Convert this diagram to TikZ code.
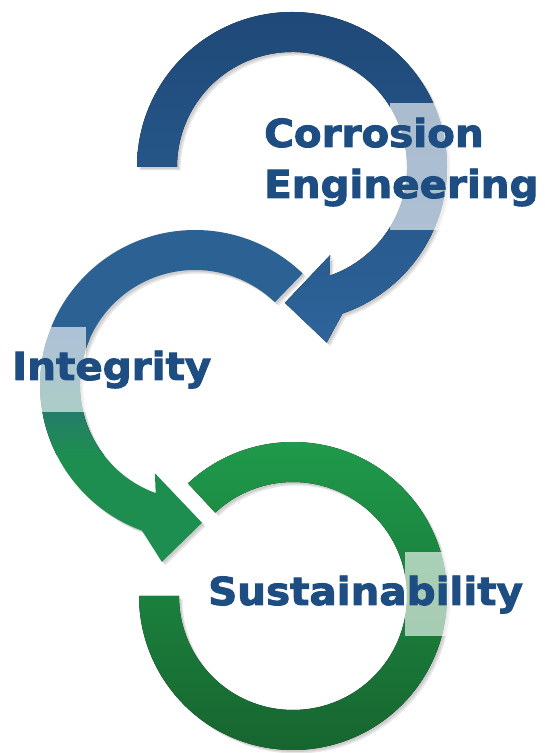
\documentclass[tikz,border=0pt]{standalone}
\usepackage{fontspec}
\newfontfamily\lblfont{DejaVu Sans}[FakeStretch=1.05, FakeBold=2.5]
\definecolor{topA}{HTML}{1E4877}
\definecolor{topB}{HTML}{2E659B}
\definecolor{midblue}{HTML}{2C6194}
\definecolor{midgreen}{HTML}{1E8E50}
\definecolor{botA}{HTML}{1F9A4B}
\definecolor{botB}{HTML}{17652F}
\definecolor{txtblue}{HTML}{1E4D82}
\newcommand{\ringTop}{(180:155) arc[start angle=180,end angle=-71,radius=155] -- (-78.8:179) -- (-93:136) -- (-66.6:96) -- (-71:115) arc[start angle=-71,end angle=180,radius=115] -- cycle}
\newcommand{\ringMid}{(46:155) arc[start angle=46,end angle=250,radius=155] -- (259.4:180) -- (272.9:138) -- (245.6:97) -- (250:115) arc[start angle=250,end angle=46,radius=115] -- cycle}
\newcommand{\ringBot}{(133:154) arc[start angle=133,end angle=-180,radius=154] -- (-180:114) arc[start angle=-180,end angle=133,radius=114] -- cycle}
\tikzset{
  lbl/.style={anchor=base west, inner sep=0pt, font=\lblfont\bfseries\fontsize{38.5}{42}\selectfont, text=txtblue},
  ringshade/.style={fill=black, opacity=0.10},
  glare/.style={fill=white, opacity=0.62}
}
\begin{document}
\begin{tikzpicture}[x=1pt,y=1pt]
\useasboundingbox (0,0) rectangle (544,753);
% shadows of the rings
\foreach \d in {2,3.5} {
  \begin{scope}[shift={(292+\d,586-\d)}] \fill[ringshade] \ringTop; \end{scope}
  \begin{scope}[shift={(195+\d,368-\d)}] \fill[ringshade] \ringMid; \end{scope}
  \begin{scope}[shift={(293+\d,157-\d)}] \fill[ringshade] \ringBot; \end{scope}
}
% top ring
\begin{scope}[shift={(292,586)}]
  \clip \ringTop;
  \fill[top color=topA, bottom color=topB] (-200,-185) rectangle (200,160);
\end{scope}
% middle ring
\begin{scope}[shift={(195,368)}]
  \clip \ringMid;
  \fill[midblue] (-200,45) rectangle (200,200);
  \fill[top color=midblue, bottom color=midgreen] (-200,-70) rectangle (200,45);
  \fill[midgreen] (-200,-200) rectangle (200,-70);
\end{scope}
% bottom ring
\begin{scope}[shift={(293,157)}]
  \clip \ringBot;
  \fill[top color=botA, bottom color=botB] (-200,-156) rectangle (200,156);
\end{scope}
% light boxes behind the labels
\fill[glare] (390,523) rectangle (452,650);
\fill[glare] (36,341) rectangle (86,426);
\fill[glare] (405,117) rectangle (452,201);
% labels
\node[lbl] (corr) at (264,606) {Corrosion};
\node[lbl] (eng) at (264,555) {Engineering};
\node[lbl] (integ) at (12,373) {Integrity};
\node[lbl] (sust) at (208,148) {Sustainability};
\end{tikzpicture}
\end{document}
